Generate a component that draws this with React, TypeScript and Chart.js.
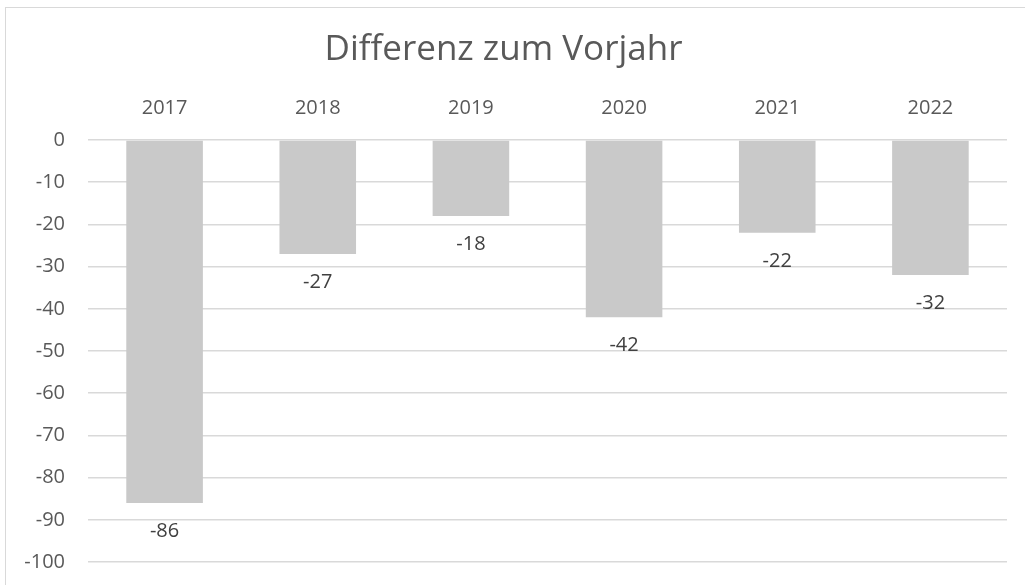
import React, { useEffect, useRef } from "react";
import { Chart, registerables } from "chart.js";

Chart.register(...registerables);

const categories = ["2017", "2018", "2019", "2020", "2021", "2022"];
const values = [-86, -27, -18, -42, -22, -32];
const yTicks = [0, -10, -20, -30, -40, -50, -60, -70, -80, -90, -100];
const title = "Differenz zum Vorjahr";

const FONT = "'Open Sans', 'Noto Sans', sans-serif";
const TITLE_SIZE = 35;
const TITLE_TOP = 29;

const labelPlugin = {
  id: "barLabels",
  afterDatasetsDraw(chart: any) {
    const ctx = chart.ctx;
    const meta = chart.getDatasetMeta(0);
    ctx.save();
    ctx.font = `20px ${FONT}`;
    ctx.fillStyle = "#404040";
    ctx.textAlign = "center";
    ctx.textBaseline = "middle";
    meta.data.forEach((bar: any, i: number) => {
      ctx.fillText(String(values[i]), bar.x, bar.y + 28);
    });
    ctx.restore();
  },
};

export default function App() {
  const ref = useRef<HTMLCanvasElement>(null);
  useEffect(() => {
    if (!ref.current) return;
    const chart = new Chart(ref.current, {
      type: "bar",
      data: {
        labels: categories,
        datasets: [
          {
            data: values,
            backgroundColor: "#c9c9c9",
            borderWidth: 0,
            categoryPercentage: 1,
            barPercentage: 0.5,
          },
        ],
      },
      options: {
        responsive: false,
        animation: false,
        layout: { padding: { left: 0, right: 18, top: 0, bottom: 23 } },
        plugins: {
          legend: { display: false },
          tooltip: { enabled: false },
          title: {
            display: true,
            text: title,
            color: "#595959",
            font: { family: FONT, size: TITLE_SIZE, weight: "normal" },
            padding: { top: TITLE_TOP, bottom: 0 },
          },
        },
        scales: {
          x: {
            position: "top",
            grid: { display: false, drawTicks: false },
            border: { display: false },
            ticks: {
              color: "#595959",
              font: { family: FONT, size: 20 },
              padding: 20,
            },
            afterFit(scale: any) {
              scale.height = 140 - (TITLE_TOP + TITLE_SIZE * 1.2);
            },
          },
          y: {
            min: -100,
            max: 0,
            afterBuildTicks(scale: any) {
              scale.ticks = yTicks.map((v) => ({ value: v }));
            },
            grid: { color: "#d9d9d9", lineWidth: 1.5, drawTicks: false },
            border: { display: false },
            ticks: {
              color: "#595959",
              font: { family: FONT, size: 20 },
              padding: 23,
              stepSize: 10,
            },
            afterFit(scale: any) {
              scale.width = 88;
              scale.paddingTop = 0;
              scale.paddingBottom = 0;
            },
          },
        },
      },
      plugins: [labelPlugin],
    });
    return () => chart.destroy();
  }, []);
  return (
    <div style={{ position: "fixed", left: 0, top: 0, width: 1025, height: 585, background: "#fff" }}>
      <canvas ref={ref} width={1025} height={585} style={{ position: "absolute", left: 0, top: 0 }} />
      <div
        style={{
          position: "absolute",
          left: 5,
          top: 7,
          width: 1030,
          height: 590,
          borderLeft: "1px solid #d9d9d9",
          borderTop: "1px solid #d9d9d9",
          pointerEvents: "none",
        }}
      />
    </div>
  );
}
